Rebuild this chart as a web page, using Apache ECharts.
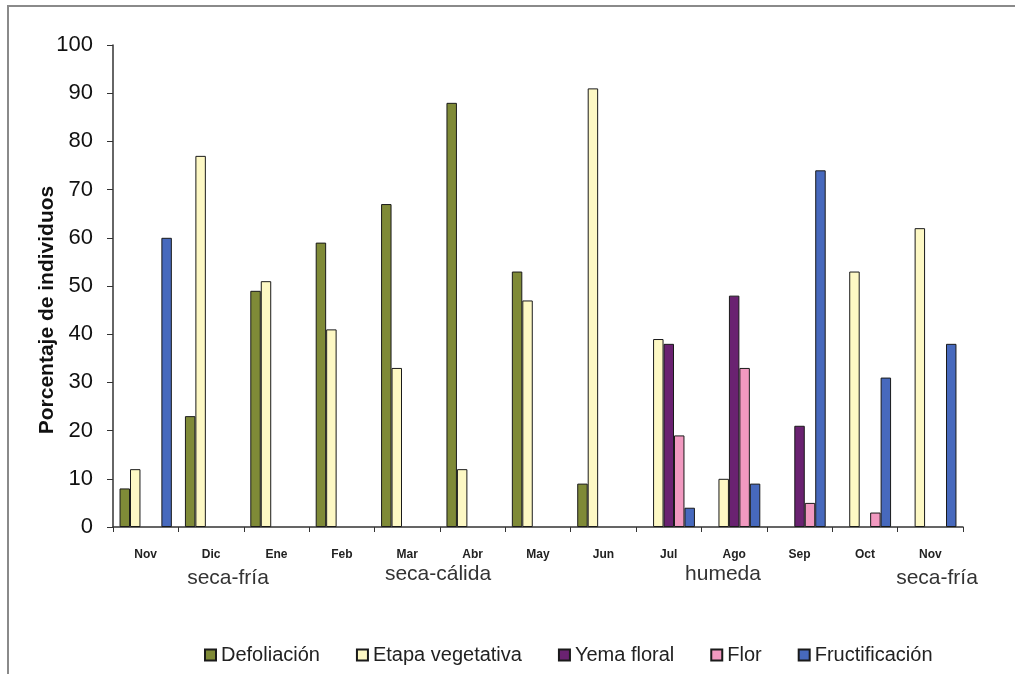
<!DOCTYPE html>
<html>
<head>
<meta charset="utf-8">
<script src="https://cdn.jsdelivr.net/npm/echarts@6/dist/echarts.min.js"></script>
<style>
html,body{margin:0;padding:0;background:#fff;}
#chart{width:1015px;height:674px;}
</style>
</head>
<body>
<div id="chart"></div>
<script>
// ---- data ----
const monthLabels = ['Nov','Dic','Ene','Feb','Mar','Abr','May','Jun','Jul','Ago','Sep','Oct','Nov'];
const seriesNames = ['Defoliación','Etapa vegetativa','Yema floral','Flor','Fructificación'];
const defoliacion = [8, 23, 49, 59, 67, 88, 53, 9, null, null, null, null, null];
const etapaVegetativa = [12, 77, 51, 41, 33, 12, 47, 91, 39, 10, null, 53, 62];
const yemaFloral = [null, null, null, null, null, null, null, null, 38, 48, 21, null, null];
const flor = [null, null, null, null, null, null, null, null, 19, 33, 5, 3, null];
const fructificacion = [60, null, null, null, null, null, null, null, 4, 9, 74, 31, 38];
const seasonLabels = ['seca-fría','seca-cálida','humeda','seca-fría'];
const yTicks = [0,10,20,30,40,50,60,70,80,90,100];

// ---- build ----
const colors = ['#7f8a37','#fdf8c4','#6a2271','#f199c0','#4769bd'];
const values = [defoliacion, etapaVegetativa, yemaFloral, flor, fructificacion];
const series = seriesNames.map((n, i) => ({
  name: n,
  type: 'bar',
  data: values[i],
  barGap: '0%',
  barCategoryGap: '20%',
  itemStyle: { color: colors[i], borderColor: '#1a1a1a', borderWidth: 1 }
}));

const seasonX = [228, 438, 723, 937];
const seasonY = [578, 574, 574, 578];
const graphics = seasonLabels.map((t, i) => ({
  type: 'text', x: seasonX[i], y: seasonY[i],
  style: { text: t, fill: '#333', font: '21px "Liberation Sans", Arial, sans-serif',
           textAlign: 'center', textVerticalAlign: 'middle' }
}));
graphics.push({
  type: 'text', x: 47, y: 310, rotation: Math.PI / 2,
  style: { text: 'Porcentaje de individuos', fill: '#111',
           font: 'bold 21px "Liberation Sans", Arial, sans-serif',
           textAlign: 'center', textVerticalAlign: 'middle' }
});
graphics.push({
  type: 'rect', shape: { x: 8, y: 6, width: 1030, height: 700 },
  style: { fill: 'none', stroke: '#8a8a8a', lineWidth: 2 }, silent: true
});

const chart = echarts.init(document.getElementById('chart'), null, { renderer: 'canvas' });
chart.setOption({
  backgroundColor: '#fff',
  animation: false,
  grid: { left: 113, right: 52, top: 45, bottom: 147, containLabel: false },
  legend: {
    data: seriesNames,
    left: 199, top: 640,
    itemWidth: 11, itemHeight: 11, itemGap: 36,
    icon: 'rect',
    textStyle: { fontSize: 20, color: '#222', fontFamily: '"Liberation Sans", Arial, sans-serif' }
  },
  xAxis: {
    type: 'category',
    data: monthLabels.map((m, i) => m + '_' + i),
    axisLine: { lineStyle: { color: '#333', width: 1.5 } },
    axisTick: { show: true, length: 5, lineStyle: { color: '#333' } },
    axisLabel: {
      formatter: (v, i) => monthLabels[i],
      interval: 0, margin: 22,
      fontSize: 12, fontWeight: 'bold', color: '#222',
      fontFamily: '"Liberation Sans", Arial, sans-serif'
    },
    splitLine: { show: false }
  },
  yAxis: {
    type: 'value',
    min: yTicks[0], max: yTicks[yTicks.length - 1], interval: 10,
    axisLine: { show: true, lineStyle: { color: '#333', width: 1.5 } },
    axisTick: { show: true, length: 6, lineStyle: { color: '#333' } },
    axisLabel: {
      margin: 20, fontSize: 22, color: '#111',
      fontFamily: '"Liberation Sans Narrow", "Liberation Sans", Arial, sans-serif'
    },
    splitLine: { show: false }
  },
  graphic: graphics,
  series: series
});
</script>
</body>
</html>
